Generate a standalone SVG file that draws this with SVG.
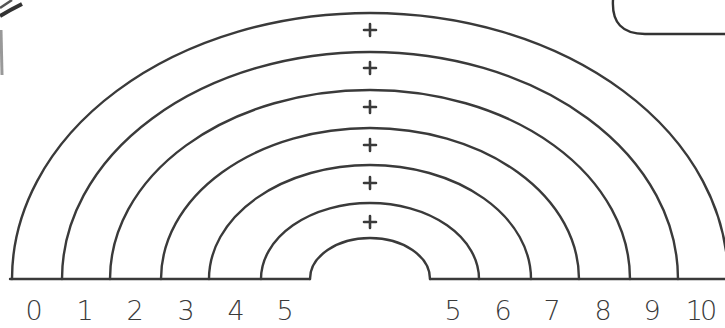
<svg xmlns="http://www.w3.org/2000/svg" width="725" height="328" viewBox="0 0 725 328">
<style>
.arc{fill:none;stroke:#3a3a3a;stroke-width:2.4;stroke-linecap:round}
.plus{stroke:#3a3a3a;stroke-width:2.6;stroke-linecap:round}
.num{font-family:"DejaVu Sans","Liberation Sans",sans-serif;font-size:27px;font-weight:200;fill:#3a3a3a;text-anchor:middle}
</style>
<rect width="725" height="328" fill="#fff"/>
<g id="fragments">
<path d="M0,16 Q10,10 22,4" fill="none" stroke="#333" stroke-width="4"/>
<path d="M0,8 Q6,4 12,0" fill="none" stroke="#555" stroke-width="2.5"/>
<path d="M1,30 L2,75" fill="none" stroke="#999" stroke-width="3"/>
<path d="M613,0 Q611,34 645,34 L725,34" fill="none" stroke="#333" stroke-width="2.4"/>
</g>
<g id="connectors">
<path class="arc" d="M10,279 H310 M430,279 H725"/>
</g>
<g id="arc1"><path class="arc" d="M12,279 A358,266 0 0 1 728,279"/></g>
<g id="arc2"><path class="arc" d="M62,279 A308,227 0 0 1 678,279"/></g>
<g id="arc3"><path class="arc" d="M110,279 A260,189 0 0 1 630,279"/></g>
<g id="arc4"><path class="arc" d="M161,279 A209,151 0 0 1 579,279"/></g>
<g id="arc5"><path class="arc" d="M209,279 A161,114 0 0 1 531,279"/></g>
<g id="arc6"><path class="arc" d="M261,279 A109,76 0 0 1 479,279"/></g>
<g id="arc7"><path class="arc" d="M310,279 A60,41 0 0 1 430,279"/></g>
<g id="plus1"><path class="plus" d="M364,30 H376 M370,24 V36"/></g>
<g id="plus2"><path class="plus" d="M364,68 H376 M370,62 V74"/></g>
<g id="plus3"><path class="plus" d="M364,107 H376 M370,101 V113"/></g>
<g id="plus4"><path class="plus" d="M364,145 H376 M370,139 V151"/></g>
<g id="plus5"><path class="plus" d="M364,183 H376 M370,177 V189"/></g>
<g id="plus6"><path class="plus" d="M364,222 H376 M370,216 V228"/></g>
<g id="labels">
<text class="num" x="34" y="320">0</text>
<text class="num" x="85" y="320">1</text>
<text class="num" x="135" y="320">2</text>
<text class="num" x="186" y="320">3</text>
<text class="num" x="236" y="320">4</text>
<text class="num" x="285" y="320">5</text>
<text class="num" x="453" y="320">5</text>
<text class="num" x="503" y="320">6</text>
<text class="num" x="552" y="320">7</text>
<text class="num" x="603" y="320">8</text>
<text class="num" x="652" y="320">9</text>
<text class="num" x="700" y="320" letter-spacing="-3">10</text>
</g>
</svg>
